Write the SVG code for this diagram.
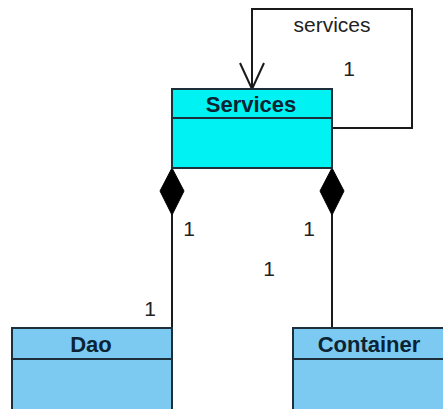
<svg xmlns="http://www.w3.org/2000/svg" width="443" height="409" viewBox="0 0 443 409">
  <style>
    .cls { stroke: #1c2f3a; stroke-width: 2; }
    .name { font-family: "Liberation Sans", Arial, sans-serif; font-weight: bold; font-size: 22px; fill: #0b2333; text-anchor: middle; }
    .lbl { font-family: "Liberation Sans", Arial, sans-serif; font-size: 21px; fill: #222; text-anchor: middle; }
    .edge { fill: none; stroke: #1a1a1a; stroke-width: 2; }
    .diamond { fill: #000; stroke: #000; stroke-width: 1; }
  </style>
  <rect width="443" height="409" fill="#ffffff"/>

  <g id="connectors">
    <!-- self association on Services -->
    <polyline class="edge" points="332,128 412,128 412,9 252,9 252,89"/>
    <polyline class="edge" points="240,63 252,89 264,63"/>
    <!-- composition Services to Dao -->
    <line class="edge" x1="172" y1="214" x2="172" y2="328"/>
    <polygon class="diamond" points="172,168 184,191 172,215 160,191"/>
    <!-- composition Services to Container -->
    <line class="edge" x1="332" y1="214" x2="332" y2="328"/>
    <polygon class="diamond" points="332,168 344,191 332,215 320,191"/>
    <text class="lbl" x="332" y="32">services</text>
    <text class="lbl" x="349" y="76">1</text>
    <text class="lbl" x="189" y="236">1</text>
    <text class="lbl" x="309" y="236">1</text>
    <text class="lbl" x="269" y="276">1</text>
    <text class="lbl" x="150" y="316">1</text>
  </g>

  <g id="services">
    <rect class="cls" x="172" y="89" width="160" height="79" fill="#00f2f2"/>
    <line class="cls" x1="172" y1="118" x2="332" y2="118"/>
    <text class="name" x="251" y="112">Services</text>
  </g>

  <g id="dao">
    <rect class="cls" x="12" y="328" width="160" height="90" fill="#7ccaf2"/>
    <line class="cls" x1="12" y1="359" x2="172" y2="359"/>
    <text class="name" x="91" y="352">Dao</text>
  </g>

  <g id="container">
    <rect class="cls" x="293" y="328" width="160" height="90" fill="#7ccaf2"/>
    <line class="cls" x1="293" y1="359" x2="453" y2="359"/>
    <text class="name" x="369" y="352">Container</text>
  </g>
</svg>
